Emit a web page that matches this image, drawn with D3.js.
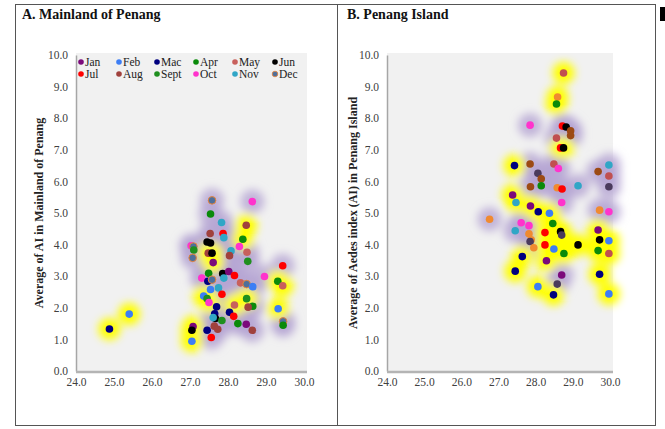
<!DOCTYPE html>
<html>
<head>
<meta charset="utf-8">
<script src="https://d3js.org/d3.v7.min.js"></script>
<style>
  body { margin: 0; background: #fff; }
  svg { display: block; font-family: "Liberation Serif", "DejaVu Serif", serif; }
</style>
</head>
<body>
<svg width="665" height="429"></svg>
<script>
// months (legend categories)
const months = ["Jan", "Feb", "Mac", "Apr", "May", "Jun", "Jul", "Aug", "Sept", "Oct", "Nov", "Dec"];
const xTicks = [24, 25, 26, 27, 28, 29, 30];
const yTicks = [0, 1, 2, 3, 4, 5, 6, 7, 8, 9, 10];

// [month index, temperature, AI, halo (1 = yellow, 0 = purple)]
const mainland = [
  [2,24.88,1.33,1],[1,25.40,1.80,1],[11,27.58,5.40,0],[3,27.54,4.97,0],[10,27.83,4.70,0],
  [7,27.53,4.35,0],[6,27.87,4.35,0],[10,27.89,4.22,0],[5,27.45,4.08,0],[5,27.54,4.05,0],
  [9,27.03,3.96,0],[11,27.09,3.94,0],[8,27.10,3.83,0],[11,27.07,3.58,0],[7,27.48,3.73,1],
  [5,27.58,3.73,1],[0,27.61,3.43,1],[3,27.49,3.09,0],[5,27.86,3.08,0],[0,28.02,3.15,0],
  [9,27.31,2.94,0],[2,27.47,2.84,0],[11,27.58,2.89,0],[10,27.89,2.94,0],[1,27.54,2.58,0],
  [10,27.75,2.63,0],[6,27.84,2.43,0],[1,27.36,2.37,1],[8,27.45,2.29,1],[9,27.50,2.17,1],
  [2,27.70,2.03,0],[2,28.04,1.86,0],[2,27.65,1.81,0],[5,27.67,1.66,0],[10,27.61,1.69,0],
  [8,27.84,1.60,0],[7,27.64,1.42,0],[7,27.73,1.32,0],[2,27.45,1.29,0],[6,27.56,1.06,0],
  [0,27.08,1.41,1],[5,27.05,1.29,1],[1,27.05,0.94,1],[9,28.64,5.36,0],[7,28.48,4.61,1],
  [3,28.39,4.17,1],[9,28.30,3.94,0],[4,28.50,3.76,0],[10,28.08,3.80,0],[7,28.04,3.65,0],
  [8,28.52,3.47,0],[6,28.17,3.02,0],[4,28.33,2.79,0],[11,28.49,2.75,0],[1,28.65,2.67,0],
  [6,29.44,3.33,0],[9,28.96,2.99,0],[3,29.31,2.84,1],[4,29.44,2.70,1],[4,28.17,2.09,1],
  [8,28.49,2.29,1],[3,28.65,2.05,0],[7,28.53,2.02,0],[1,29.32,1.97,1],[6,28.15,1.73,0],
  [3,28.26,1.50,0],[0,28.48,1.48,0],[7,28.64,1.29,0],[11,29.45,1.57,0],[3,29.45,1.45,0]
];

const island = [
  [4,28.75,9.43,1],[11,28.59,8.67,1],[3,28.56,8.45,1],[6,28.72,7.75,0],[5,28.82,7.72,0],
  [7,28.94,7.60,0],[9,27.85,7.78,0],[4,28.56,7.37,0],[7,28.94,7.45,0],[6,28.67,7.06,1],
  [5,28.75,7.06,1],[2,27.43,6.50,1],[7,27.85,6.55,0],[8,28.06,6.26,0],[7,28.15,6.08,0],
  [7,27.86,5.83,0],[3,28.15,5.86,0],[0,27.38,5.57,1],[10,27.47,5.33,1],[0,27.86,5.22,1],
  [2,28.07,5.04,1],[1,28.37,4.99,1],[11,26.76,4.80,0],[9,27.61,4.69,0],[9,27.82,4.60,0],
  [10,27.45,4.44,0],[11,27.82,4.34,0],[6,28.25,4.38,1],[11,27.88,4.15,0],[8,27.85,4.10,0],
  [11,27.95,3.90,0],[6,28.25,3.99,1],[2,27.64,3.62,1],[0,28.29,3.49,1],[2,27.45,3.16,1],
  [1,28.06,2.67,1],[4,28.49,6.55,0],[9,28.61,6.41,0],[10,29.97,6.52,0],[7,29.68,6.31,0],
  [4,29.97,6.17,0],[8,29.97,5.83,0],[11,28.58,5.80,0],[6,28.71,5.76,0],[10,29.14,5.86,0],
  [9,28.70,5.33,0],[11,29.72,5.09,0],[9,29.97,5.04,0],[3,28.46,4.67,1],[5,28.67,4.41,1],
  [8,28.70,4.30,1],[1,28.49,3.86,1],[3,28.76,3.72,1],[5,29.14,3.99,1],[0,29.68,4.46,1],
  [5,29.72,4.15,1],[1,29.97,4.12,1],[3,29.68,3.81,1],[4,29.97,3.72,1],[0,28.70,3.04,0],
  [8,28.58,2.75,0],[2,28.48,2.41,1],[2,29.72,3.06,1],[1,29.97,2.44,1]
];

const mainlandColors = ["#7b0a7b","#3d7ef5","#00007f","#0a8a0a","#c8605c","#000000",
                        "#ff0000","#a0413d","#1f8f1f","#ff33cc","#30a6c6","#4f6f9a"];
const islandColors   = ["#7b0a7b","#3d7ef5","#00007f","#0a8a0a","#c05050","#000000",
                        "#ff0000","#9c4a14","#4a3a5c","#ff33cc","#30a6c6","#f08a30"];

const svg = d3.select("svg");
const defs = svg.append("defs");
defs.append("filter").attr("id", "glow")
    .attr("x", "-100%").attr("y", "-100%").attr("width", "300%").attr("height", "300%")
  .append("feGaussianBlur").attr("stdDeviation", 4.5);

// panel frames + odd black mark at the right edge
svg.append("rect").attr("x", 15.5).attr("y", 4.5).attr("width", 322).attr("height", 421)
   .attr("fill", "none").attr("stroke", "#555");
svg.append("rect").attr("x", 337.5).attr("y", 4.5).attr("width", 318).attr("height", 421)
   .attr("fill", "none").attr("stroke", "#555");
svg.append("rect").attr("x", 660).attr("y", 7).attr("width", 5).attr("height", 14).attr("fill", "#000");

function panel(opt) {
  const x = d3.scaleLinear().domain([24, 30]).range([opt.left, opt.right]);
  const y = d3.scaleLinear().domain([0, 10]).range([371, 55]);
  const g = svg.append("g");

  g.append("text").attr("x", opt.titleX).attr("y", 19)
   .style("font-size", "14px").style("font-weight", "bold").attr("fill", "#111")
   .text(opt.title);

  g.append("rect").attr("x", opt.left).attr("y", 53)
   .attr("width", opt.right - opt.left + 3).attr("height", 318).attr("fill", "#f1f1f1");

  const yAxis = g.append("g").attr("transform", `translate(${opt.left},0)`)
    .call(d3.axisLeft(y).tickValues(yTicks).tickSize(0).tickPadding(8).tickFormat(d3.format(".1f")));
  const xAxis = g.append("g").attr("transform", "translate(0,372)")
    .call(d3.axisBottom(x).tickValues(xTicks).tickSize(0).tickPadding(6).tickFormat(d3.format(".1f")));
  [yAxis, xAxis].forEach(a => {
    a.attr("font-family", "Liberation Serif").attr("font-size", 11.5);
    a.selectAll("text").style("font-family", "'Liberation Serif', serif")
     .style("font-size", "11.5px").attr("fill", "#404040");
  });
  yAxis.select(".domain").attr("stroke", "#a6a6a6").attr("stroke-width", 1.5);
  xAxis.select(".domain").attr("stroke", "#b4b4b4").attr("stroke-width", 2.5)
       .attr("d", `M${opt.left},0H${opt.right + 3}`);

  g.append("text")
   .attr("transform", `translate(${opt.labelX},213) rotate(-90)`)
   .attr("text-anchor", "middle").style("font-size", "12px").style("font-weight", "bold")
   .attr("fill", "#222").text(opt.yLabel);

  const halos = g.append("g").attr("filter", "url(#glow)");
  halos.selectAll("circle").data(opt.data.filter(d => !d[3])).join("circle")
    .attr("cx", d => x(d[1])).attr("cy", d => y(d[2])).attr("r", 12)
    .attr("fill", "#b5a5d3").attr("opacity", 0.8);
  halos.selectAll("circle.y").data(opt.data.filter(d => d[3])).join("circle").attr("class", "y")
    .attr("cx", d => x(d[1])).attr("cy", d => y(d[2])).attr("r", 11)
    .attr("fill", "#ffff00");

  g.append("g").selectAll("circle").data(opt.data).join("circle")
    .attr("cx", d => x(d[1])).attr("cy", d => y(d[2])).attr("r", 3.8)
    .attr("fill", d => opt.colors[d[0]])
    .attr("stroke", d => (opt.ring && d[0] === 11) ? "#e8843a" : "none")
    .attr("stroke-width", 1);

  if (opt.legend) {
    const cols = [81, 119, 157, 196, 235, 275];
    const lg = g.append("g");
    months.forEach((m, i) => {
      const cx = cols[i % 6], cy = i < 6 ? 62 : 74;
      lg.append("circle").attr("cx", cx).attr("cy", cy).attr("r", 2.8)
        .attr("fill", opt.colors[i])
        .attr("stroke", i === 11 ? "#e8843a" : "none").attr("stroke-width", 0.8);
      lg.append("text").attr("x", cx + 4).attr("y", cy + 4)
        .style("font-size", "11.5px").attr("fill", "#222").text(m);
    });
  }
}

panel({ title: "A. Mainland of Penang", titleX: 22, left: 76, right: 304, labelX: 43,
        yLabel: "Average of AI in Mainland of Penang", data: mainland,
        colors: mainlandColors, ring: true, legend: true });
panel({ title: "B. Penang Island", titleX: 347, left: 387, right: 610, labelX: 357,
        yLabel: "Average of Aedes index (AI) in Penang Island", data: island,
        colors: islandColors, ring: false, legend: false });
</script>
</body>
</html>
